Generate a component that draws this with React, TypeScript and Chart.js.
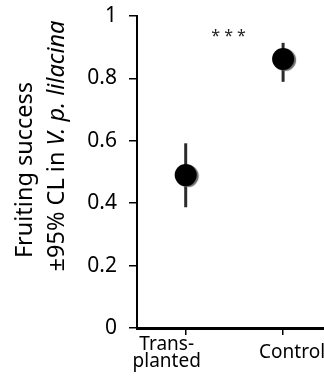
import React, { useEffect, useRef } from 'react';
import { Chart, registerables } from 'chart.js';

Chart.register(...registerables);

// ---- data ----
const CATEGORIES: string[][] = [['Trans-', 'planted'], ['Control']];
const MEANS = [0.49, 0.862];
const CI_LOW = [0.387, 0.789];
const CI_HIGH = [0.592, 0.914];
const Y_TICKS = [0, 0.2, 0.4, 0.6, 0.8, 1];
const Y_TICK_LABELS = ['0', '0.2', '0.4', '0.6', '0.8', '1'];
const SIGNIF_LABEL = '* * *';
const TITLE_LINE1 = [{ text: 'Fruiting success', italic: false }];
const TITLE_LINE2 = [
  { text: '±95% CL in ', italic: false },
  { text: 'V. p. lilacina', italic: true },
];

const FONT = '"Noto Sans", "Open Sans", sans-serif';

function drawSegments(ctx: CanvasRenderingContext2D, segs: { text: string; italic: boolean }[], size: number) {
  const fonts = segs.map((s) => `${s.italic ? 'italic ' : ''}${size}px ${FONT}`);
  const widths = segs.map((s, i) => {
    ctx.font = fonts[i];
    return ctx.measureText(s.text).width;
  });
  const total = widths.reduce((a, b) => a + b, 0);
  ctx.textAlign = 'left';
  let cx = -total / 2;
  segs.forEach((s, i) => {
    ctx.font = fonts[i];
    ctx.fillText(s.text, cx, 0);
    cx += widths[i];
  });
}

const customPlugin = {
  id: 'customDecor',
  beforeDatasetsDraw(chart: any) {
    const { ctx, scales } = chart;
    const x = scales.x;
    const y = scales.y;
    ctx.save();
    ctx.strokeStyle = '#2b2b2b';
    ctx.lineWidth = 3;
    MEANS.forEach((_, i) => {
      const px = x.getPixelForValue(i + 1);
      ctx.beginPath();
      ctx.moveTo(px, y.getPixelForValue(CI_HIGH[i]));
      ctx.lineTo(px, y.getPixelForValue(CI_LOW[i]));
      ctx.stroke();
    });
    ctx.restore();
  },
  beforeDatasetDraw(chart: any) {
    const ctx = chart.ctx;
    ctx.save();
    ctx.shadowColor = 'rgba(90,90,90,0.9)';
    ctx.shadowOffsetX = 2;
    ctx.shadowOffsetY = 1;
    ctx.shadowBlur = 1;
  },
  afterDatasetDraw(chart: any) {
    chart.ctx.restore();
  },
  afterDraw(chart: any) {
    const { ctx, scales, chartArea } = chart;
    const x = scales.x;
    const y = scales.y;
    ctx.save();
    ctx.fillStyle = '#000';
    ctx.textAlign = 'center';
    ctx.textBaseline = 'alphabetic';

    // category labels
    ctx.font = `19px ${FONT}`;
    const b = chartArea.bottom;
    const t0 = x.getPixelForValue(1);
    ctx.fillText(CATEGORIES[0][0], t0 - 19, b + 22);
    ctx.fillText(CATEGORIES[0][1], t0 - 19, b + 39);
    const t1 = x.getPixelForValue(2);
    ctx.fillText(CATEGORIES[1][0], t1 + 9, b + 30);

    // significance stars
    ctx.font = `16px ${FONT}`;
    ctx.fillStyle = '#222';
    const m = ctx.measureText(SIGNIF_LABEL);
    const sy = y.getPixelForValue(0.946) + (m.actualBoundingBoxAscent - m.actualBoundingBoxDescent) / 2;
    ctx.fillText(SIGNIF_LABEL, x.getPixelForValue(1.44), sy);

    // y title (two lines, rotated)
    ctx.fillStyle = '#000';
    const cy = (chartArea.top + chartArea.bottom) / 2;
    ctx.save();
    ctx.translate(32, cy - 2);
    ctx.rotate(-Math.PI / 2);
    drawSegments(ctx, TITLE_LINE1, 23.5);
    ctx.restore();
    ctx.save();
    ctx.translate(64, cy - 26);
    ctx.rotate(-Math.PI / 2);
    drawSegments(ctx, TITLE_LINE2, 23.5);
    ctx.restore();

    ctx.restore();
  },
};

export default function App() {
  const ref = useRef<HTMLCanvasElement | null>(null);
  useEffect(() => {
    if (!ref.current) return;
    const chart = new Chart(ref.current, {
      type: 'scatter',
      data: {
        datasets: [
          {
            data: MEANS.map((v, i) => ({ x: i + 1, y: v })),
            backgroundColor: '#000',
            borderColor: '#000',
            pointRadius: 11,
            pointHoverRadius: 11,
            borderWidth: 0,
            clip: false as any,
          },
        ],
      },
      options: {
        animation: false,
        responsive: false,
        devicePixelRatio: 1,
        layout: { autoPadding: false, padding: { top: 16, left: 0, right: 0, bottom: 0 } },
        plugins: { legend: { display: false }, tooltip: { enabled: false } },
        events: [],
        scales: {
          x: {
            type: 'linear',
            min: 0.5,
            max: 2.42,
            afterBuildTicks: (s: any) => {
              s.ticks = [{ value: 1 }, { value: 2 }];
            },
            afterFit: (s: any) => {
              s.height = 64;
              s.paddingLeft = 0;
              s.paddingRight = 0;
            },
            ticks: { display: false },
            grid: { drawOnChartArea: false, drawTicks: true, tickLength: 7, color: '#000', lineWidth: 1.5 },
            border: { display: true, color: '#000', width: 3 },
          },
          y: {
            type: 'linear',
            min: 0,
            max: 1,
            afterBuildTicks: (s: any) => {
              s.ticks = Y_TICKS.map((v) => ({ value: v }));
            },
            afterFit: (s: any) => {
              s.width = 137;
              s.paddingTop = 0;
              s.paddingBottom = 0;
            },
            ticks: {
              color: '#000',
              padding: 12,
              font: { family: FONT, size: 21 },
              callback: (v: any) => {
                const i = Y_TICKS.indexOf(Number(v));
                return i >= 0 ? Y_TICK_LABELS[i] : String(v);
              },
            },
            grid: { drawOnChartArea: false, drawTicks: true, tickLength: 8, color: '#000', lineWidth: 1.5 },
            border: { display: true, color: '#000', width: 2 },
          },
        },
      },
      plugins: [customPlugin],
    });
    return () => chart.destroy();
  }, []);
  return (
    <div style={{ position: 'absolute', left: 0, top: 0, width: 324, height: 392, background: '#fff' }}>
      <canvas ref={ref} width={324} height={392} style={{ display: 'block' }} />
    </div>
  );
}
